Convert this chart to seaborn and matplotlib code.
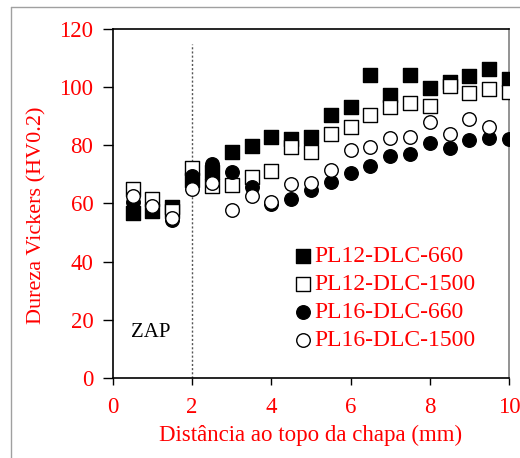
import numpy as np
import pandas as pd
import matplotlib
matplotlib.use("Agg")
import matplotlib.pyplot as plt
import seaborn as sns
from matplotlib.lines import Line2D

sns.set_style("ticks")
plt.rcParams['font.family'] = ['Liberation Serif', 'DejaVu Serif']

x = [0.5, 1.0, 1.5, 2.0, 2.5, 3.0, 3.5, 4.0, 4.5, 5.0,
     5.5, 6.0, 6.5, 7.0, 7.5, 8.0, 8.5, 9.0, 9.5, 10.0]
pl12_660 = [56.6, 57.5, 58.6, 68.0, 70.9, 77.7, 79.8, 82.9, 82.0, 82.9,
            90.3, 93.1, 104.0, 97.1, 104.0, 99.8, 101.7, 103.7, 106.3, 102.9]
pl12_1500 = [65.1, 61.5, 57.4, 72.0, 66.0, 66.2, 69.1, 71.2, 79.4, 77.5,
             83.7, 86.3, 90.3, 93.1, 94.5, 93.4, 100.2, 98.1, 99.2, 98.3]
pl16_660 = [60.6, 57.7, 54.3, 69.4, 73.7, 70.9, 65.7, 59.8, 61.4, 64.6,
            67.4, 70.3, 72.9, 76.2, 77.1, 80.6, 78.9, 81.7, 82.4, 82.2]
pl16_1500 = [62.5, 59.1, 54.9, 65.1, 66.9, 57.7, 62.6, 60.3, 66.5, 67.1,
             71.4, 78.3, 79.4, 82.5, 82.7, 88.0, 84.0, 88.9, 86.1, np.nan]
series_names = ["PL12-DLC-660", "PL12-DLC-1500", "PL16-DLC-660", "PL16-DLC-1500"]
xticks = [0, 2, 4, 6, 8, 10]
yticks = [0, 20, 40, 60, 80, 100, 120]

df = pd.DataFrame({"x": x * 4,
                   "y": pl12_660 + pl12_1500 + pl16_660 + pl16_1500,
                   "serie": sum([[n] * len(x) for n in series_names], [])})

styles = {
    "PL12-DLC-660": dict(marker="s", facecolor="black"),
    "PL12-DLC-1500": dict(marker="s", facecolor="white"),
    "PL16-DLC-660": dict(marker="o", facecolor="black"),
    "PL16-DLC-1500": dict(marker="o", facecolor="white"),
}

fig = plt.figure(figsize=(5.2, 4.58), dpi=100)
ax = fig.add_axes([0.217, 0.175, 0.762, 0.762])

for name in series_names:
    st = styles[name]
    sub = df[df["serie"] == name].dropna()
    sns.scatterplot(data=sub, x="x", y="y", ax=ax, marker=st["marker"],
                    s=95, color=st["facecolor"], edgecolor="black",
                    linewidth=1.0, label=name, zorder=3)

ax.axvline(2, ymin=0, ymax=0.957, color="#555555", linestyle=(0, (1.5, 1.5)),
           linewidth=1.0, zorder=1)
ax.text(0.96, 15.5, "ZAP", fontsize=15, ha="center", va="center", color="black")

ax.set_xlim(0, 10)
ax.set_ylim(0, 120)
ax.set_xticks(xticks)
ax.set_yticks(yticks)
ax.tick_params(axis="both", labelsize=16.5, labelcolor="red", direction="out",
               width=1, color="black")
ax.tick_params(axis="y", length=7, pad=7)
ax.tick_params(axis="x", length=5, pad=9)
ax.set_xlabel("Distância ao topo da chapa (mm)", fontsize=16.5, color="red", labelpad=5)
ax.set_ylabel("Dureza Vickers (HV0.2)", fontsize=16, color="red")
ax.yaxis.set_label_coords(-0.167, 0.467)
for sp in ["left", "bottom", "top"]:
    ax.spines[sp].set_color("black")
    ax.spines[sp].set_linewidth(1.2)
ax.spines["right"].set_color("#808080")
ax.spines["right"].set_linewidth(1.2)
ax.spines["top"].set_visible(True)
ax.spines["right"].set_visible(True)
ax.grid(False)

leg = ax.legend(loc="upper left", bbox_to_anchor=(0.42, 0.405), frameon=False,
                fontsize=17, handletextpad=-0.1, labelspacing=0.27,
                borderaxespad=0, handlelength=1.2)
for t in leg.get_texts():
    t.set_color("red")

fig.add_artist(Line2D([11 / 520, 11 / 520], [0, 1 - 7 / 458], color="#a0a0a0", lw=1))
fig.add_artist(Line2D([11 / 520, 1], [1 - 7 / 458, 1 - 7 / 458], color="#a0a0a0", lw=1))

fig.savefig("out.png", dpi=100)
